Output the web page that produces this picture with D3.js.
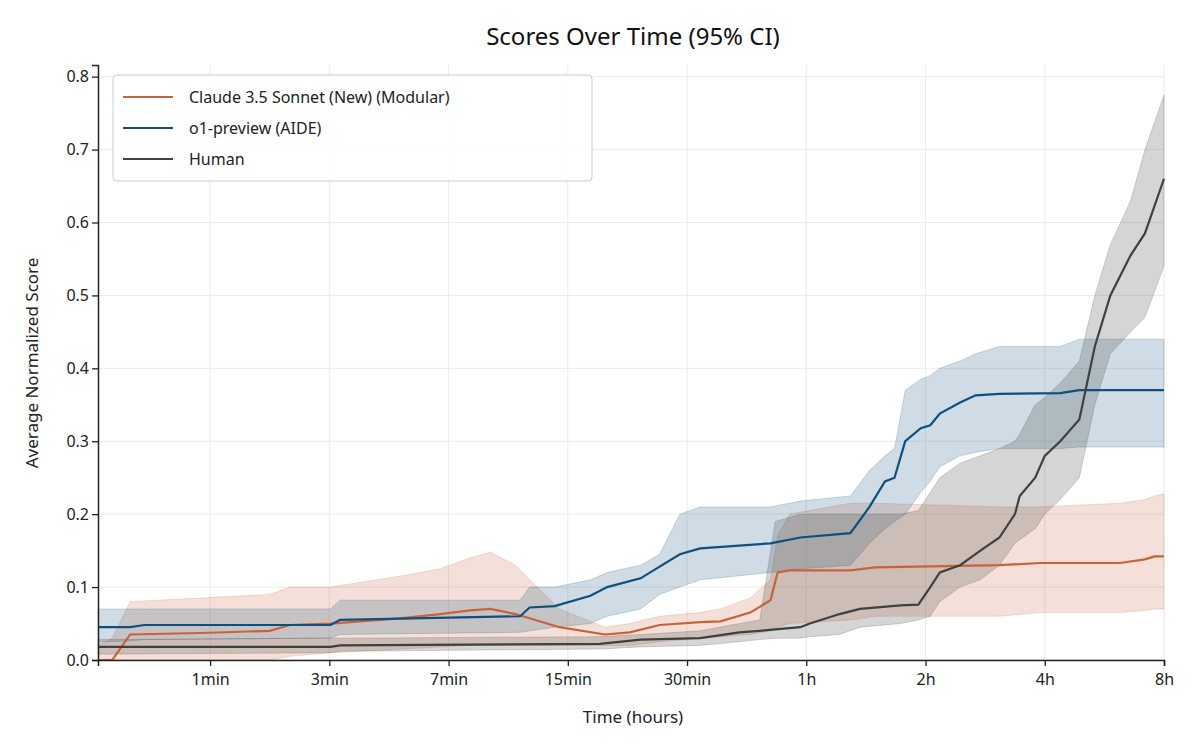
<!DOCTYPE html>
<html>
<head>
<meta charset="utf-8">
<script src="https://cdn.jsdelivr.net/npm/d3@7"></script>
<style>
  body { margin: 0; background: #fff; font-family: "Noto Sans", Lato, sans-serif; }
</style>
</head>
<body>
<svg id="chart" width="1200" height="750"></svg>
<script>
// x values are in log2(minutes + 1) units, so 1min = 1, 3min = 2, ... 8h = 9
var tickLabels = ["1min", "3min", "7min", "15min", "30min", "1h", "2h", "4h", "8h"];
var tickPos = [1, 2, 3, 4, 5, 6, 7, 8, 9];

// [x, mean, lower, upper]
var claude = [
  [0.06, 0, 0, 0.02], [0.18, 0, 0, 0.03], [0.33, 0.035, 0, 0.08], [0.92, 0.037, 0, 0.085],
  [1.5, 0.04, 0, 0.09], [1.67, 0.048, 0.005, 0.1], [2.01, 0.05, 0.01, 0.1], [2.59, 0.057, 0.015, 0.115],
  [2.93, 0.063, 0.018, 0.125], [3.18, 0.068, 0.02, 0.14], [3.35, 0.07, 0.02, 0.148], [3.56, 0.063, 0.02, 0.13],
  [3.93, 0.045, 0.02, 0.07], [4.31, 0.035, 0.02, 0.045], [4.52, 0.038, 0.02, 0.05], [4.77, 0.048, 0.025, 0.06],
  [5.11, 0.052, 0.03, 0.065], [5.28, 0.053, 0.032, 0.07], [5.53, 0.065, 0.035, 0.085], [5.7, 0.082, 0.04, 0.11],
  [5.76, 0.12, 0.045, 0.17], [5.86, 0.123, 0.05, 0.2], [6.37, 0.123, 0.055, 0.215], [6.58, 0.127, 0.06, 0.215],
  [7.62, 0.13, 0.06, 0.21], [7.96, 0.133, 0.065, 0.21], [8.63, 0.133, 0.065, 0.215], [8.84, 0.138, 0.068, 0.22],
  [8.92, 0.142, 0.07, 0.225], [9, 0.142, 0.07, 0.228]
];
var o1 = [
  [0.06, 0.045, 0.025, 0.07], [0.33, 0.045, 0.026, 0.07], [0.45, 0.048, 0.028, 0.07], [2.01, 0.048, 0.03, 0.07],
  [2.09, 0.055, 0.035, 0.082], [3.6, 0.06, 0.038, 0.082], [3.68, 0.072, 0.04, 0.1], [3.89, 0.074, 0.045, 0.1],
  [4.19, 0.088, 0.05, 0.11], [4.33, 0.1, 0.06, 0.12], [4.61, 0.112, 0.07, 0.13], [4.77, 0.128, 0.09, 0.145],
  [4.94, 0.145, 0.1, 0.2], [5.11, 0.153, 0.11, 0.21], [5.7, 0.16, 0.12, 0.21], [5.95, 0.168, 0.125, 0.218],
  [6.37, 0.174, 0.13, 0.225], [6.53, 0.21, 0.16, 0.26], [6.66, 0.245, 0.18, 0.28], [6.74, 0.25, 0.19, 0.29],
  [6.83, 0.3, 0.2, 0.37], [6.96, 0.318, 0.23, 0.385], [7.04, 0.322, 0.245, 0.39], [7.12, 0.338, 0.265, 0.4],
  [7.29, 0.353, 0.28, 0.41], [7.42, 0.363, 0.285, 0.42], [7.62, 0.365, 0.29, 0.43], [8.13, 0.366, 0.29, 0.43],
  [8.29, 0.37, 0.292, 0.44], [9, 0.37, 0.292, 0.44]
];
var human = [
  [0.06, 0.018, 0.008, 0.028], [2.01, 0.018, 0.01, 0.03], [2.09, 0.02, 0.012, 0.03], [4.27, 0.022, 0.015, 0.032],
  [4.61, 0.028, 0.018, 0.035], [5.11, 0.03, 0.02, 0.04], [5.44, 0.038, 0.025, 0.05], [5.61, 0.04, 0.028, 0.055],
  [5.74, 0.042, 0.03, 0.19], [5.95, 0.045, 0.03, 0.2], [6.03, 0.05, 0.032, 0.2], [6.28, 0.063, 0.035, 0.2],
  [6.45, 0.07, 0.045, 0.2], [6.79, 0.075, 0.05, 0.2], [6.94, 0.076, 0.055, 0.205], [7.04, 0.1, 0.06, 0.23],
  [7.12, 0.12, 0.08, 0.25], [7.29, 0.13, 0.1, 0.27], [7.46, 0.15, 0.11, 0.28], [7.62, 0.168, 0.13, 0.29],
  [7.75, 0.2, 0.16, 0.3], [7.79, 0.225, 0.165, 0.31], [7.92, 0.25, 0.18, 0.35], [8.0, 0.28, 0.2, 0.36],
  [8.13, 0.3, 0.22, 0.38], [8.29, 0.33, 0.25, 0.41], [8.42, 0.43, 0.35, 0.5], [8.55, 0.5, 0.42, 0.57],
  [8.72, 0.555, 0.45, 0.63], [8.84, 0.585, 0.47, 0.7], [9, 0.66, 0.54, 0.775]
];
var seriesNames = ["Claude 3.5 Sonnet (New) (Modular)", "o1-preview (AIDE)", "Human"];
var seriesColors = ["#c9623a", "#0d4f7e", "#404040"];
var yTicks = [0, 0.1, 0.2, 0.3, 0.4, 0.5, 0.6, 0.7, 0.8];

var svg = d3.select("#chart");
var plotLeft = 98, plotRight = 1164, plotTop = 65, plotBottom = 660;

var x = d3.scaleLinear().domain([0.06, 9]).range([plotLeft, plotRight]);
var y = d3.scaleLinear().domain([0, 0.816]).range([plotBottom, plotTop]);

// grid
svg.append("g").selectAll("line").data(tickPos).join("line")
  .attr("x1", d => x(d)).attr("x2", d => x(d)).attr("y1", plotTop).attr("y2", plotBottom)
  .attr("stroke", "#ebebeb").attr("stroke-width", 1);
svg.append("g").selectAll("line").data(yTicks).join("line")
  .attr("x1", plotLeft).attr("x2", plotRight).attr("y1", d => y(d)).attr("y2", d => y(d))
  .attr("stroke", "#ebebeb").attr("stroke-width", 1);

var plot = svg.append("g");
var area = d3.area().x(d => x(d[0])).y0(d => y(d[2])).y1(d => y(d[3]));
var line = d3.line().x(d => x(d[0])).y(d => y(d[1]));

[claude, o1, human].forEach((s, i) => {
  plot.append("path").attr("d", area(s))
    .attr("fill", seriesColors[i]).attr("fill-opacity", i == 2 ? 0.22 : 0.2)
    .attr("stroke", seriesColors[i]).attr("stroke-opacity", 0.2);
});
[claude, o1, human].forEach((s, i) => {
  plot.append("path").attr("d", line(s))
    .attr("fill", "none").attr("stroke", seriesColors[i]).attr("stroke-width", 2.2);
});

// axes
var xAxis = svg.append("g").attr("transform", `translate(0,${plotBottom})`)
  .call(d3.axisBottom(x).tickValues(tickPos).tickFormat((d, i) => tickLabels[i]).tickSizeOuter(0).tickSize(6));
var yAxis = svg.append("g").attr("transform", `translate(${plotLeft},0)`)
  .call(d3.axisLeft(y).tickValues(yTicks).tickFormat(d3.format(".1f")).tickSizeOuter(0).tickSize(6));
[xAxis, yAxis].forEach(a => {
  a.selectAll("text").attr("font-size", 16).attr("fill", "#222").attr("font-family", "Noto Sans, sans-serif");
  a.select(".domain").attr("stroke", "#222").attr("stroke-width", 1.5);
  a.selectAll(".tick line").attr("stroke", "#222").attr("stroke-width", 1.3);
});
xAxis.selectAll("text").attr("dy", "1.0em");

svg.append("text").attr("x", 633).attr("y", 45).attr("text-anchor", "middle")
  .attr("font-size", 24).attr("fill", "#111").text("Scores Over Time (95% CI)");
svg.append("text").attr("x", 633).attr("y", 723).attr("text-anchor", "middle")
  .attr("font-size", 17).attr("fill", "#222").text("Time (hours)");
svg.append("text").attr("transform", "translate(38,363) rotate(-90)").attr("text-anchor", "middle")
  .attr("font-size", 17).attr("fill", "#222").text("Average Normalized Score");

// legend
var lg = svg.append("g").attr("transform", "translate(113,75)");
lg.append("rect").attr("width", 479).attr("height", 106).attr("rx", 4)
  .attr("fill", "#fff").attr("fill-opacity", 0.85).attr("stroke", "#ccc");
seriesNames.forEach((n, i) => {
  var gy = 22 + i * 31;
  lg.append("line").attr("x1", 10).attr("x2", 60).attr("y1", gy).attr("y2", gy)
    .attr("stroke", seriesColors[i]).attr("stroke-width", 2.2);
  lg.append("text").attr("x", 76).attr("y", gy + 6).attr("font-size", 16).attr("fill", "#222").text(n);
});
</script>
</body>
</html>
